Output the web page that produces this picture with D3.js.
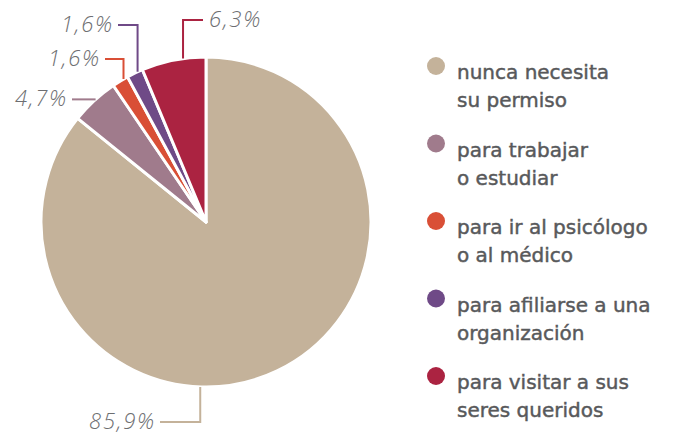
<!DOCTYPE html>
<html>
<head>
  <meta charset="utf-8">
  <title>Permiso</title>
  <style>
    body, html { margin: 0; padding: 0; background: #fff; }
    .pct { font-family: "Open Sans", sans-serif; font-style: italic; font-weight: 300; font-size: 22px; letter-spacing: 1.8px; fill: #6d6e71; }
    .legend text { font-family: "DejaVu Sans", sans-serif; font-size: 20px; fill: #58595b; stroke: #58595b; stroke-width: 0.45px; }
  </style>
</head>
<body>
  <svg id="svg" width="690" height="436"></svg>

  <script src="https://d3js.org/d3.v7.min.js"></script>
  <script>
    // data
    const categories = [
      ['nunca necesita', 'su permiso'],
      ['para trabajar', 'o estudiar'],
      ['para ir al psicólogo', 'o al médico'],
      ['para afiliarse a una', 'organización'],
      ['para visitar a sus', 'seres queridos']
    ]
    const values = [85.9, 4.7, 1.6, 1.6, 6.3]
    const labels = ['85,9%', '4,7%', '1,6%', '1,6%', '6,3%']
    const colors = ['#c4b29a', '#a07b8c', '#d94f36', '#6f4a87', '#ab2341']

    // leader line layout for each slice (angle in degrees, where the line leaves the pie)
    const leaders = [
      { angle: 182, dir: 'down', y: 422, x: 160, side: 'left' },
      { angle: 318, dir: 'flat', x: 72, side: 'left' },
      { angle: 330, dir: 'up', y: 59, x: 105, side: 'left' },
      { angle: 335.5, dir: 'up', y: 25, x: 118, side: 'left' },
      { angle: 352, dir: 'up', y: 20, x: 203, side: 'right' }
    ]

    const svg = d3.select('#svg')
    const cx = 206, cy = 222, r = 165

    const pie = d3.pie().sort(null).value(d => d)
    const arcs = pie(values)
    const arc = d3.arc().innerRadius(0).outerRadius(r)

    const g = svg.append('g').attr('transform', `translate(${cx},${cy})`)

    g.selectAll('path.slice')
      .data(arcs)
      .join('path')
      .attr('class', 'slice')
      .attr('d', arc)
      .attr('fill', (d, i) => colors[i])
      .attr('stroke', '#fff')
      .attr('stroke-width', 3)
      .attr('stroke-linejoin', 'round')

    // leader lines + percentage labels
    leaders.forEach((l, i) => {
      const a = l.angle * Math.PI / 180
      const px = cx + r * Math.sin(a)
      const py = cy - r * Math.cos(a)
      let pts
      let ly
      if (l.dir === 'flat') {
        pts = [[px, py], [l.x, py]]
        ly = py
      } else {
        pts = [[px, py], [px, l.y], [l.x, l.y]]
        ly = l.y
      }
      svg.append('path')
        .attr('d', d3.line()(pts))
        .attr('fill', 'none')
        .attr('stroke', colors[i])
        .attr('stroke-width', 2)

      svg.append('text')
        .attr('class', 'pct')
        .attr('x', l.side === 'left' ? l.x - 4 : l.x + 6)
        .attr('y', ly + 7)
        .attr('text-anchor', l.side === 'left' ? 'end' : 'start')
        .text(labels[i])
    })

    // legend
    const legendY = d3.scalePoint()
      .domain(d3.range(categories.length))
      .range([66, 376])

    const legend = svg.append('g').attr('class', 'legend')
    const item = legend.selectAll('g')
      .data(categories)
      .join('g')
      .attr('transform', (d, i) => `translate(436,${legendY(i)})`)

    item.append('circle')
      .attr('r', 9)
      .attr('fill', (d, i) => colors[i])
      .attr('stroke', 'none')

    item.append('text')
      .attr('x', 21)
      .attr('y', 13)
      .selectAll('tspan')
      .data(d => d)
      .join('tspan')
      .attr('x', 21)
      .attr('dy', (d, j) => j === 0 ? 0 : 28)
      .text(d => d)
  </script>
</body>
</html>
